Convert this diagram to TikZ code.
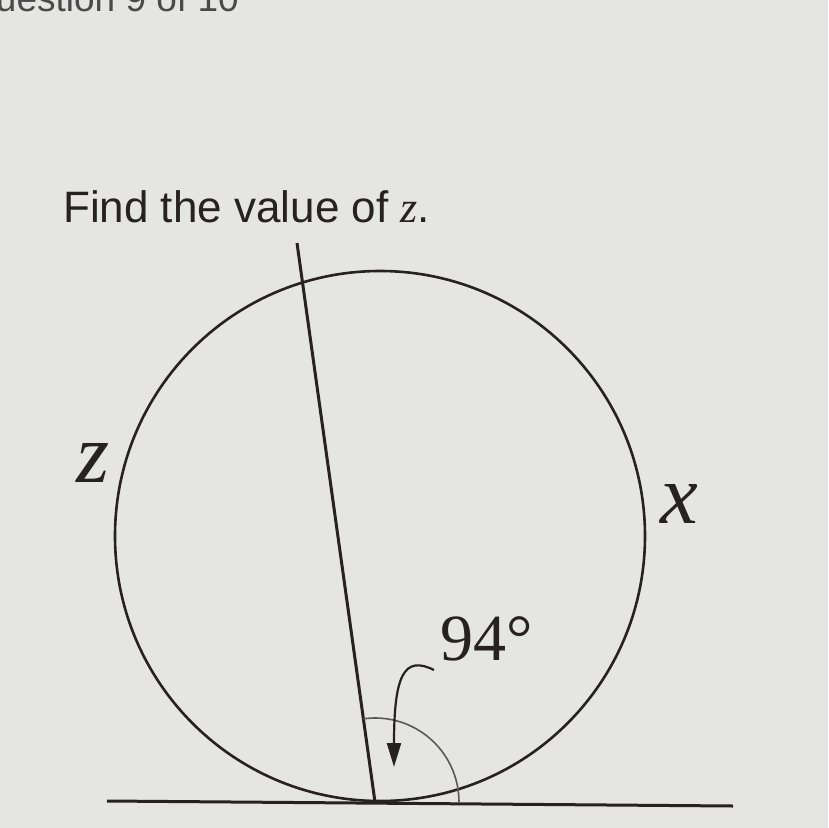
\documentclass[tikz,border=0pt]{standalone}
\usepackage{fontspec}
\setmainfont{Liberation Serif}
\newfontfamily\arialf{Liberation Sans}
\usetikzlibrary{arrows.meta}
\definecolor{bgc}{HTML}{E5E5E1}
\definecolor{ink}{HTML}{262222}
\definecolor{topgray}{HTML}{4A4A4A}
\tikzset{
  geo/.style={draw=ink, line width=3pt},
  thinarc/.style={draw=ink!75, line width=1.6pt},
  lbl/.style={inner sep=0pt, anchor=base west, text=ink},
  pointer/.style={draw=ink, line width=2.2pt, -{Triangle[length=24pt,width=14pt]}}
}
\begin{document}
\begin{tikzpicture}[x=1pt,y=-1pt]
\fill[bgc] (0,0) rectangle (828,828);
\useasboundingbox (0,0) rectangle (828,828);
% cut-off heading at the top
\node[lbl, text=topgray, font=\arialf\fontsize{37}{40}\selectfont] (head) at (-33,11) {Question 9 of 10};
% question
\node[lbl, font=\arialf\fontsize{44}{48}\selectfont] (q) at (63,222) {Find the value of {\fontspec{Liberation Serif}\itshape z}.};
% geometry
\coordinate (C) at (380,536);
\coordinate (T) at (375,802);
\coordinate (Top) at (297,243);
\coordinate (L) at (107,801);
\coordinate (R) at (733,806);
\draw[geo, line width=2.6pt] (C) circle[radius=265];
\draw[geo] (T) -- (Top);
\draw[geo] (L) -- (R);
\draw[thinarc] ([xshift=84pt]T) arc[start angle=0, end angle=-98, radius=84];
% labels
\node[lbl, font=\fontsize{85}{90}\selectfont\itshape] (z) at (76,482) {z};
\node[lbl, font=\fontsize{85}{90}\selectfont\itshape] (x) at (660,523) {x};
\node[lbl, font=\fontsize{66}{70}\selectfont] (deg) at (440,660) {94°};
\coordinate (tip) at (394,767);
\draw[pointer] ([xshift=-6pt,yshift=-10pt]deg.base west) .. controls (404,655) and (394,675) .. (tip);
\end{tikzpicture}
\end{document}
